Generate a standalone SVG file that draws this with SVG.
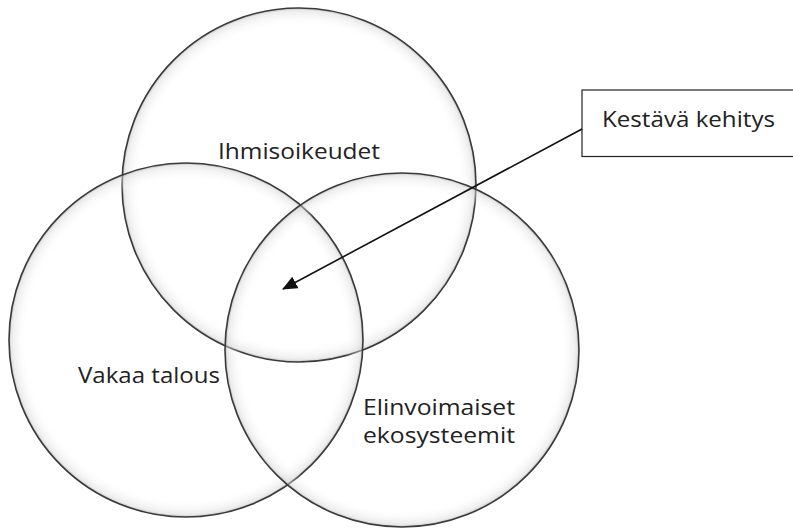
<svg xmlns="http://www.w3.org/2000/svg" width="793" height="529" viewBox="0 0 793 529">
<style>
.c{fill:url(#g);stroke:#3a3a3a;stroke-width:1.6}
.t{font-family:"Open Sans","Noto Sans",sans-serif;font-size:22.5px;fill:#222}
.box{fill:#fff;stroke:#222;stroke-width:1.2}
.ln{stroke:#111;stroke-width:1.6;fill:none}
</style>
<defs>
<radialGradient id="g" cx="0.5" cy="0.5" r="0.5">
<stop offset="0.9" stop-color="#ffffff" stop-opacity="0"/>
<stop offset="0.985" stop-color="#d8d8d8" stop-opacity="0.5"/>
<stop offset="1" stop-color="#999" stop-opacity="0.6"/>
</radialGradient>
<marker id="ah" markerWidth="15" markerHeight="13" refX="14" refY="6.5" orient="auto" markerUnits="userSpaceOnUse" viewBox="0 0 15 13">
<path d="M0,0 L15,6.5 L0,13 z" fill="#111"/>
</marker>
</defs>
<rect width="793" height="529" fill="#fff"/>
<g id="ihmisoikeudet">
<circle class="c" cx="299" cy="185" r="177"/>
</g>
<g id="vakaa-talous">
<circle class="c" cx="186" cy="340" r="177"/>
</g>
<g id="elinvoimaiset">
<circle class="c" cx="402" cy="350" r="177"/>
</g>
<g id="labels">
<text class="t" x="218" y="159" textLength="162" lengthAdjust="spacingAndGlyphs">Ihmisoikeudet</text>
<text class="t" x="78" y="383" textLength="142" lengthAdjust="spacingAndGlyphs">Vakaa talous</text>
<text class="t" x="363" y="415" textLength="152" lengthAdjust="spacingAndGlyphs">Elinvoimaiset</text>
<text class="t" x="363" y="443" textLength="152" lengthAdjust="spacingAndGlyphs">ekosysteemit</text>
</g>
<g id="kestava-kehitys">
<rect class="box" x="582" y="90" width="214" height="66.5"/>
<text class="t" x="602" y="127" textLength="173" lengthAdjust="spacingAndGlyphs">Kestävä kehitys</text>
</g>
<g id="connectors">
<line class="ln" x1="582" y1="129" x2="283" y2="289" marker-end="url(#ah)"/>
</g>
</svg>
